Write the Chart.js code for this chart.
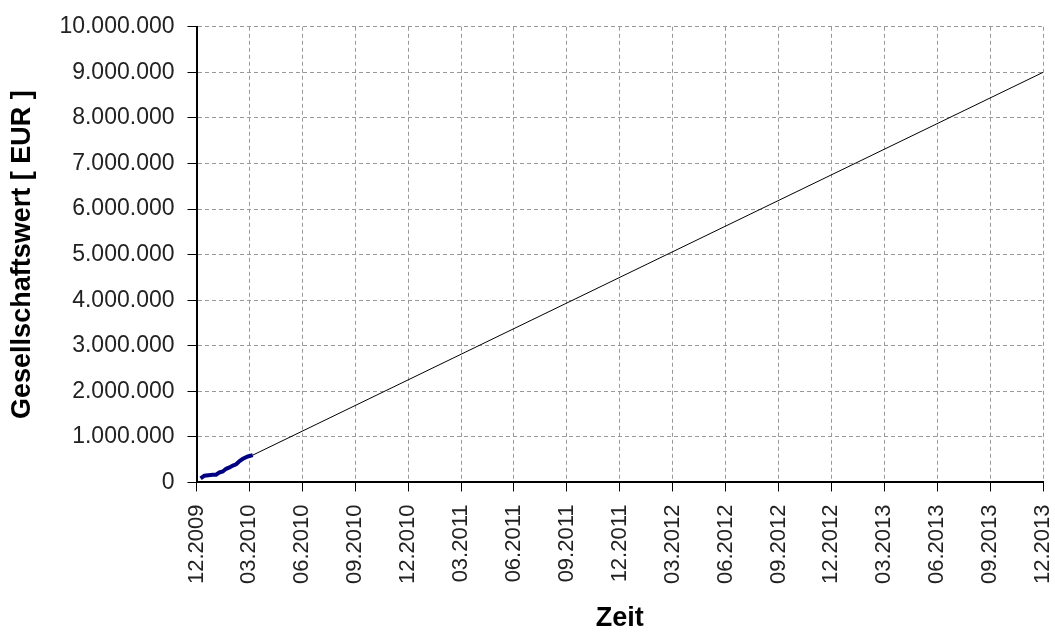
<!DOCTYPE html>
<html>
<head>
<meta charset="utf-8">
<script src="https://cdn.jsdelivr.net/npm/chart.js@4.4.1/dist/chart.umd.min.js"></script>
<style>
    html, body { margin: 0; padding: 0; background: #fff; }
    #wrap { width: 1055px; height: 632px; position: relative; }
</style>
</head>
<body>
<div id="wrap"><canvas id="chart"></canvas></div>
<script>
// Quarter tick labels, x is measured in months since 12.2009
const tickLabels = ['12.2009', '03.2010', '06.2010', '09.2010', '12.2010', '03.2011', '06.2011', '09.2011',
    '12.2011', '03.2012', '06.2012', '09.2012', '12.2012', '03.2013', '06.2013', '09.2013', '12.2013'];

// Actual company value (thick blue part)
const actualMonths = [0.23, 0.45, 0.92, 1.11, 1.30, 1.49, 1.68, 1.87, 2.06, 2.25, 2.44, 2.63, 2.91, 3.19];
const actualValues = [90000, 150000, 170000, 170000, 220000, 240000, 300000, 330000, 370000, 400000, 470000, 520000, 570000, 600000];

// Projected value (thin black line)
const forecastMonths = [3.19, 48];
const forecastValues = [600000, 9000000];

const FONT = "'Liberation Sans', Arial, sans-serif";

function dePoints(v) {
    return String(Math.round(v)).replace(/\B(?=(\d{3})+(?!\d))/g, '.');
}

function toXY(xs, ys) {
    return xs.map((x, i) => ({ x, y: ys[i] }));
}

new Chart(document.getElementById('chart'), {
    type: 'line',
    data: {
        datasets: [
            {
                label: 'Prognose',
                data: toXY(forecastMonths, forecastValues),
                borderColor: '#000000',
                borderWidth: 1,
                pointRadius: 0,
                tension: 0,
            },
            {
                label: 'Gesellschaftswert',
                data: toXY(actualMonths, actualValues),
                borderColor: '#000080',
                borderWidth: 4,
                pointRadius: 0,
                tension: 0,
            },
        ],
    },
    options: {
        responsive: true,
        maintainAspectRatio: false,
        animation: false,
        layout: { padding: { top: 1, right: 12, bottom: 0, left: 4 } },
        plugins: {
            legend: { display: false },
            tooltip: { enabled: false },
        },
        scales: {
            x: {
                type: 'linear',
                min: 0,
                max: 48,
                afterBuildTicks: (axis) => {
                    axis.ticks = tickLabels.map((_, i) => ({ value: i * 3 }));
                },
                afterFit: (axis) => {
                    axis.paddingLeft = 0;
                    axis.paddingRight = 0;
                },
                ticks: {
                    autoSkip: false,
                    minRotation: 90,
                    maxRotation: 90,
                    padding: 13,
                    color: '#222',
                    font: { family: FONT, size: 22 },
                    callback: (v) => tickLabels[Math.round(v / 3)],
                },
                grid: {
                    color: '#9a9a9a',
                    lineWidth: 1,
                    tickColor: '#000',
                    tickLength: 9,
                },
                border: { display: true, color: '#000', width: 2, dash: [4, 3] },
                title: {
                    display: true,
                    text: 'Zeit',
                    color: '#000',
                    font: { family: FONT, size: 27, weight: 'bold', lineHeight: 1 },
                    padding: { top: 8, bottom: 0 },
                },
            },
            y: {
                min: 0,
                max: 10000000,
                ticks: {
                    stepSize: 1000000,
                    padding: 13,
                    color: '#222',
                    font: { family: FONT, size: 23 },
                    callback: (v) => dePoints(v),
                },
                grid: {
                    color: '#9a9a9a',
                    lineWidth: 1,
                    tickColor: '#000',
                    tickLength: 9,
                },
                border: { display: true, color: '#000', width: 2, dash: [4, 3] },
                title: {
                    display: true,
                    text: 'Gesellschaftswert [ EUR ]',
                    color: '#000',
                    font: { family: FONT, size: 27, weight: 'bold' },
                    padding: { top: 2, bottom: 8 },
                },
            },
        },
    },
});
</script>
</body>
</html>
